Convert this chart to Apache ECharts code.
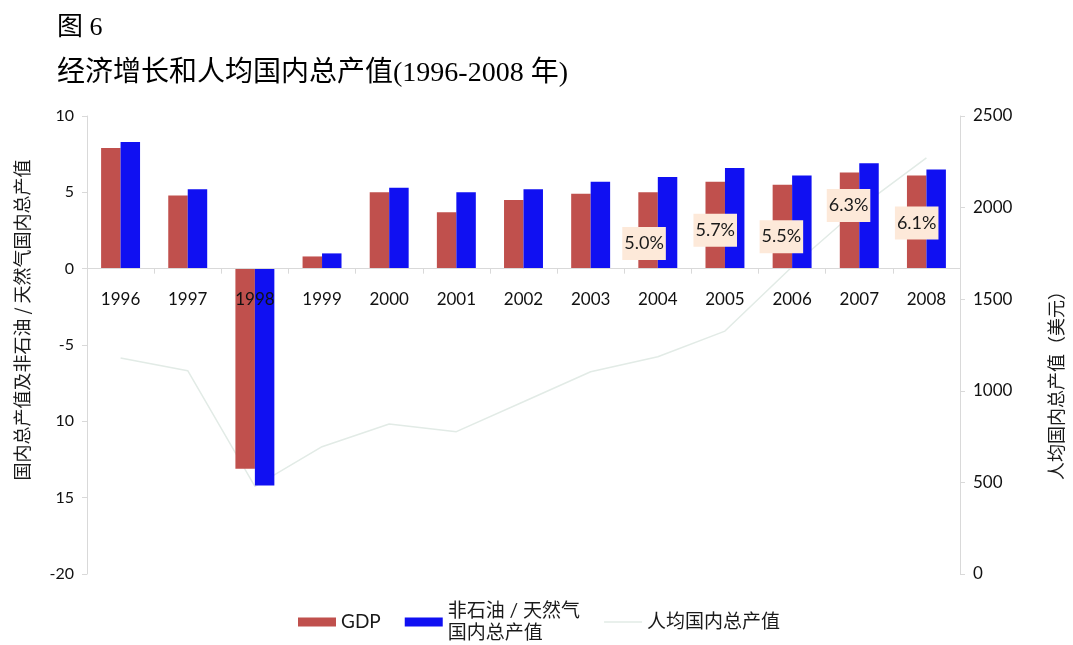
<!DOCTYPE html>
<html>
<head>
<meta charset="utf-8">
<script src="https://cdn.jsdelivr.net/npm/echarts@6/dist/echarts.min.js"></script>
<style>
html,body{margin:0;padding:0;background:#fff;}
#chart{width:1073px;height:645px;}
</style>
</head>
<body>
<div id="chart"></div>
<script>
// ---- data ----
const categories = ['1996','1997','1998','1999','2000','2001','2002','2003','2004','2005','2006','2007','2008'];
const gdp = [7.9, 4.8, -13.1, 0.8, 5.0, 3.7, 4.5, 4.9, 5.0, 5.7, 5.5, 6.3, 6.1];
const nonOilGdp = [8.3, 5.2, -14.2, 1.0, 5.3, 5.0, 5.2, 5.7, 6.0, 6.6, 6.1, 6.9, 6.5];
const perCapitaGdp = [1179, 1110, 478, 695, 819, 777, 940, 1104, 1186, 1326, 1677, 1998, 2271];
const leftTickLabels = ['-20', '15', '10', '-5', '0', '5', '10'];
const seriesNames = ['GDP', '非石油 / 天然气\n国内总产值', '人均国内总产值'];
const pctLabelYears = ['2004','2005','2006','2007','2008'];
const usdLabelYears = ['1998','2004','2008'];
const leftMin = -20, leftMax = 10, leftStep = 5;
const rightMin = 0, rightMax = 2500, rightStep = 500;

// ---- layout / styling (not data) ----
const W = 1073, H = 645;
const gridBox = {left: 87, right: 106, top: 116, bottom: 71};
const gridHeight = H - gridBox.top - gridBox.bottom;
// move the category axis from the grid bottom up to the value 0 of the left axis
const xAxisOffset = -gridHeight * (0 - leftMin) / (leftMax - leftMin);

const pctLabelOffsets = {'2004':[-4,13],'2005':[0,5],'2006':[-1,10],'2007':[-1,-15],'2008':[0,1]};
const usdLabelStyle = {
  '1998': {bg:'#e46c1e', position:'bottom', distance:6, offset:[15,0]},
  '2004': {bg:'#95b3d7', position:'bottom', distance:16, offset:[15,0]},
  '2008': {bg:'#a8c686', position:'top', distance:1, offset:[5,0]}
};
const tickFont = "Lato, 'Noto Sans CJK SC', sans-serif";
const cjkFont = "'Noto Sans CJK SC', Lato, sans-serif";
const lineColor = '#e2ebe6';

function thousands(v){ return String(v).replace(/\B(?=(\d{3})+(?!\d))/g, '.'); }

const gdpData = gdp.map((v, i) => {
  const y = categories[i];
  if (pctLabelYears.indexOf(y) < 0) return v;
  return {
    value: v,
    label: {
      show: true, position: 'inside', offset: pctLabelOffsets[y],
      formatter: p => p.value.toFixed(1) + '%',
      backgroundColor: '#fde9d9', padding: [8, 2, 7, 2],
      color: '#1a1a1a', fontFamily: tickFont, fontSize: 18
    }
  };
});

const lineData = perCapitaGdp.map((v, i) => {
  const y = categories[i];
  const st = usdLabelStyle[y];
  if (usdLabelYears.indexOf(y) < 0 || !st) return v;
  return {
    value: v,
    label: {
      show: true, position: st.position, distance: st.distance, offset: st.offset,
      formatter: p => 'US$ ' + thousands(p.value),
      backgroundColor: st.bg, padding: [6, 5, 5, 5],
      color: '#1a1a1a', fontFamily: tickFont, fontSize: 17
    }
  };
});

const chart = echarts.init(document.getElementById('chart'), null, {renderer: 'canvas'});
chart.setOption({
  backgroundColor: '#ffffff',
  animation: false,
  title: [
    {text: '图 6', left: 52, top: 10,
     textStyle: {fontFamily: "'Liberation Serif', 'Noto Sans CJK SC', serif", fontSize: 26, fontWeight: 'normal', color: '#000'}},
    {text: '经济增长和人均国内总产值(1996-2008 年)', left: 52, top: 55,
     textStyle: {fontFamily: "'Liberation Serif', 'Noto Sans CJK SC', serif", fontSize: 28, fontWeight: 'normal', color: '#000'}}
  ],
  legend: {
    left: 293, top: 595, itemGap: 24, itemWidth: 38, itemHeight: 9,
    textStyle: {fontFamily: tickFont, fontSize: 19, lineHeight: 22, color: '#1a1a1a'},
    data: [
      {name: seriesNames[0], icon: 'rect'},
      {name: seriesNames[1], icon: 'rect'},
      {name: seriesNames[2], icon: 'path://M0,0H40V1.5H0Z', itemStyle: {color: lineColor}}
    ]
  },
  grid: {left: gridBox.left, right: gridBox.right, top: gridBox.top, bottom: gridBox.bottom, containLabel: false},
  xAxis: {
    type: 'category', data: categories, z: 5, position: 'bottom', offset: xAxisOffset,
    axisLine: {onZero: false, lineStyle: {color: '#d9d9d9', width: 1}},
    axisTick: {show: true, length: 5, lineStyle: {color: '#d9d9d9'}},
    axisLabel: {margin: 22, color: '#111', fontFamily: tickFont, fontSize: 17},
    splitLine: {show: false}
  },
  yAxis: [
    {
      type: 'value', min: leftMin, max: leftMax, interval: leftStep, position: 'left',
      name: '国内总产值及非石油 / 天然气国内总产值', nameLocation: 'middle', nameGap: 56, nameRotate: 90,
      nameTextStyle: {fontFamily: cjkFont, fontSize: 18, color: '#1a1a1a', padding: [0, 0, 0, 50]},
      axisLine: {show: true, lineStyle: {color: '#d9d9d9'}},
      axisTick: {show: true, length: 5, lineStyle: {color: '#d9d9d9'}},
      axisLabel: {margin: 13, color: '#111', fontFamily: tickFont, fontSize: 16,
        formatter: (v) => leftTickLabels[Math.round((v - leftMin) / leftStep)]},
      splitLine: {show: false}
    },
    {
      type: 'value', min: rightMin, max: rightMax, interval: rightStep, position: 'right',
      name: '人均国内总产值（美元）', nameLocation: 'middle', nameGap: 87, nameRotate: 90,
      nameTextStyle: {fontFamily: cjkFont, fontSize: 18, color: '#1a1a1a', padding: [0, 72, 0, 0]},
      axisLine: {show: true, lineStyle: {color: '#d9d9d9'}},
      axisTick: {show: true, length: 5, lineStyle: {color: '#d9d9d9'}},
      axisLabel: {margin: 13, color: '#111', fontFamily: tickFont, fontSize: 17,
        formatter: (v) => String(v)},
      splitLine: {show: false}
    }
  ],
  series: [
    {
      name: seriesNames[0], type: 'bar', yAxisIndex: 0, data: gdpData,
      barGap: '0%', barCategoryGap: '42%', z: 2,
      itemStyle: {color: '#c0504d'}
    },
    {
      name: seriesNames[1], type: 'bar', yAxisIndex: 0, data: nonOilGdp,
      barGap: '0%', barCategoryGap: '42%', z: 2,
      itemStyle: {color: '#1010f2'}
    },
    {
      name: seriesNames[2], type: 'line', yAxisIndex: 1, data: lineData,
      symbol: 'none', z: 1,
      lineStyle: {color: lineColor, width: 1.5},
      itemStyle: {color: lineColor},
      label: {show: false}
    }
  ]
});
</script>
</body>
</html>
